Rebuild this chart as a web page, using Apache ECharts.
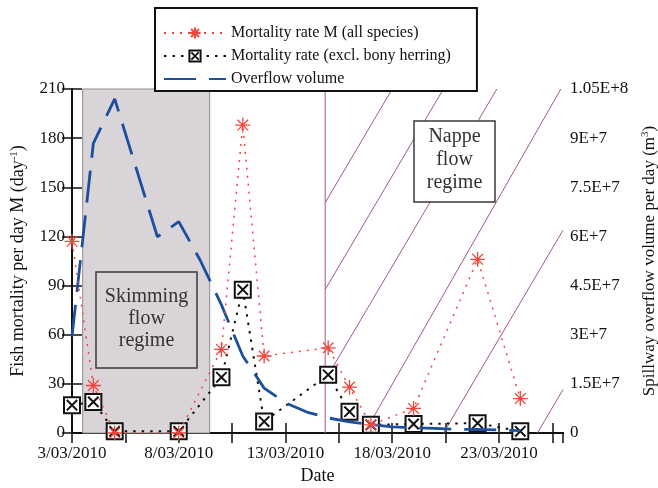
<!DOCTYPE html>
<html><head><meta charset="utf-8">
<script src="https://cdn.jsdelivr.net/npm/echarts@6/dist/echarts.min.js"></script>
<style>html,body{margin:0;padding:0;background:#fff}#c{width:658px;height:488px}</style>
</head><body><div id="c"></div>
<script>
// ---- data (days after 3/03/2010) ----
const days = [0, 1, 2, 5, 7, 8, 9, 12, 13, 14, 16, 19, 21];
const mortalityAll = [117, 29, 0, 0, 51, 188, 47, 52, 28, 5, 15, 106, 21];
const mortalityExcl = [17, 19, 1, 1, 34, 87.5, 7, 35.5, 13, 5, 5.5, 6, 1];
const flowDays = [0, 1, 2, 4, 5, 6, 7, 8, 9, 10, 11, 12, 13, 14, 15, 16, 17, 18, 19, 20, 21];
const overflow = [2.94e7, 8.84e7, 1.02e8, 5.99e7, 6.45e7, 5.28e7, 3.91e7, 2.35e7, 1.37e7, 9.2e6, 6.4e6,
  4.6e6, 3.4e6, 2.6e6, 1.9e6, 1.6e6, 1.4e6, 1.1e6, 1.1e6, 0.9e6, 0.7e6];
const xTickLabels = ['3/03/2010', '8/03/2010', '13/03/2010', '18/03/2010', '23/03/2010'];
const rightTickLabels = ['0', '1.5E+7', '3E+7', '4.5E+7', '6E+7', '7.5E+7', '9E+7', '1.05E+8'];
const skimming = [0.5, 6.45];
const nappe = [11.86, 23];
// hatch lines: [day where M=0, day where M=210]
const hatchLines = [[5.5, 15.0], [7.9, 17.4], [10.4, 19.9], [13.7, 22.9], [17.4, 26.9], [21.8, 31.3]];
const yMax = 210, xMax = 23;

const serif = '"Liberation Serif", "Times New Roman", serif';
const black = '#111';
const red = '#f0463c';
const blue = '#1c4f9e';
const purple = '#a25592';

const pair = (xs, ys) => xs.map((x, i) => [x, ys[i]]);

const chart = echarts.init(document.getElementById('c'), null, {renderer: 'canvas'});
const axisCommon = {
  axisLine: {show: true, lineStyle: {color: black, width: 2}},
  axisTick: {show: true, inside: true, length: 10, lineStyle: {color: black, width: 1.5}},
  splitLine: {show: false}
};
chart.setOption({
  animation: false,
  backgroundColor: '#fff',
  grid: {left: 72, right: 95, top: 89, bottom: 55, containLabel: false, outerBoundsMode: 'none'},
  legend: {
    orient: 'vertical', left: 155, top: 8,
    padding: [17, 26, 4, 8], itemGap: 7, itemWidth: 62, itemHeight: 14,
    borderColor: black, borderWidth: 2, backgroundColor: '#fff',
    textStyle: {fontFamily: serif, fontSize: 16, color: black},
    data: ['Mortality rate M (all species)', 'Mortality rate (excl. bony herring)',
      {name: 'Overflow volume', itemStyle: {opacity: 0}}]
  },
  xAxis: [
    Object.assign({
      type: 'value', min: 0, max: xMax, interval: 2.5, position: 'bottom',
      name: 'Date', nameLocation: 'middle', nameGap: 34,
      nameTextStyle: {fontFamily: serif, fontSize: 18, color: black},
      axisLabel: {
        fontFamily: serif, fontSize: 17, color: black, margin: 12, showMaxLabel: false,
        formatter: v => (Math.abs(v % 5) < 1e-9 ? xTickLabels[Math.round(v / 5)] || '' : '')
      }
    }, axisCommon),
    Object.assign({
      type: 'value', min: 0, max: xMax, interval: 2.5, position: 'top',
      axisLabel: {show: false}
    }, axisCommon)
  ],
  yAxis: [
    Object.assign({
      type: 'value', min: 0, max: yMax, interval: 30, position: 'left',
      name: '{a|Fish mortality per day M (day}{s|-1}{a|)}', nameLocation: 'middle', nameGap: 44,
      nameTextStyle: {rich: {
        a: {fontFamily: serif, fontSize: 18, color: black},
        s: {fontFamily: serif, fontSize: 11, color: black, verticalAlign: 'top', padding: [0, 0, 8, 0]}
      }},
      axisLabel: {fontFamily: serif, fontSize: 17, color: black, margin: 7}
    }, axisCommon),
    Object.assign({
      type: 'value', min: 0, max: 1.05e8, interval: 1.5e7, position: 'right',
      name: '{a|Spillway overflow volume per day (m}{s|3}{a|)}', nameLocation: 'middle', nameGap: 77,
      nameTextStyle: {rich: {
        a: {fontFamily: serif, fontSize: 17, color: black},
        s: {fontFamily: serif, fontSize: 11, color: black, verticalAlign: 'top', padding: [0, 0, 8, 0]}
      }},
      axisLabel: {fontFamily: serif, fontSize: 17, color: black, margin: 7,
        formatter: v => rightTickLabels[Math.round(v / 1.5e7)] || ''}
    }, axisCommon)
  ],
  series: [
    {
      type: 'custom', name: 'regimes', silent: true, z: 1, clip: false,
      data: [[0, 0]],
      renderItem: (params, api) => {
        const children = [];
        const b0 = api.coord([nappe[0], 0]);
        const b1 = api.coord([nappe[0], yMax]);
        children.push({type: 'line', shape: {x1: b0[0], y1: b0[1], x2: b1[0], y2: b1[1]},
          style: {stroke: purple, lineWidth: 1}});
        hatchLines.forEach(([b, t]) => {
          const lo = Math.max(0, (nappe[0] - b) / (t - b));
          const hi = Math.min(1, (nappe[1] - b) / (t - b));
          if (hi <= lo) return;
          const p1 = api.coord([b + lo * (t - b), lo * yMax]);
          const p2 = api.coord([b + hi * (t - b), hi * yMax]);
          children.push({type: 'line', shape: {x1: p1[0], y1: p1[1], x2: p2[0], y2: p2[1]},
            style: {stroke: purple, lineWidth: 1}});
        });
        return {type: 'group', children};
      },
      markArea: {
        silent: true,
        data: [
          [{xAxis: skimming[0], yAxis: 0, itemStyle: {color: '#d9d4d7', borderColor: '#8c8c8c', borderWidth: 1}},
           {xAxis: skimming[1], yAxis: yMax}]
        ]
      }
    },
    {
      type: 'line', name: 'Mortality rate (excl. bony herring)', z: 3,
      data: pair(days, mortalityExcl),
      symbol: 'path://M-1,-1L1,-1L1,1L-1,1ZM-0.65,-0.65L0.65,0.65M0.65,-0.65L-0.65,0.65',
      symbolSize: 16,
      itemStyle: {color: '#fff', borderColor: black, borderWidth: 2},
      lineStyle: {color: black, width: 2, type: [2.5, 6]}
    },
    {
      type: 'line', name: 'Overflow volume', yAxisIndex: 1, z: 4,
      data: pair(flowDays, overflow), showSymbol: false, symbol: 'none',
      itemStyle: {color: blue},
      lineStyle: {color: blue, width: 2.8, type: [32, 13]}
    },
    {
      type: 'line', name: 'Mortality rate M (all species)', z: 5,
      data: pair(days, mortalityAll),
      symbol: 'path://M0,-1L0,1M-1,0L1,0M-0.707,-0.707L0.707,0.707M-0.707,0.707L0.707,-0.707',
      symbolSize: 15,
      itemStyle: {color: 'rgba(0,0,0,0)', borderColor: red, borderWidth: 1.3},
      lineStyle: {color: red, width: 1.5, type: [2, 6]}
    }
  ],
  graphic: [
    {type: 'rect', z: 10, shape: {x: 96, y: 272, width: 101, height: 96},
      style: {fill: '#d9d4d7', stroke: '#3a3a3a', lineWidth: 1.5}},
    {type: 'text', z: 11, x: 146.5, y: 319,
      style: {text: 'Skimming\nflow\nregime', align: 'center', verticalAlign: 'middle',
        fontFamily: serif, fontSize: 20, lineHeight: 22, fill: '#333'}},
    {type: 'rect', z: 10, shape: {x: 414, y: 121, width: 81, height: 81},
      style: {fill: '#fff', stroke: '#3a3a3a', lineWidth: 1.5}},
    {type: 'text', z: 11, x: 454.5, y: 160,
      style: {text: 'Nappe\nflow\nregime', align: 'center', verticalAlign: 'middle',
        fontFamily: serif, fontSize: 20, lineHeight: 23, fill: '#333'}}
  ]
});
</script></body></html>
